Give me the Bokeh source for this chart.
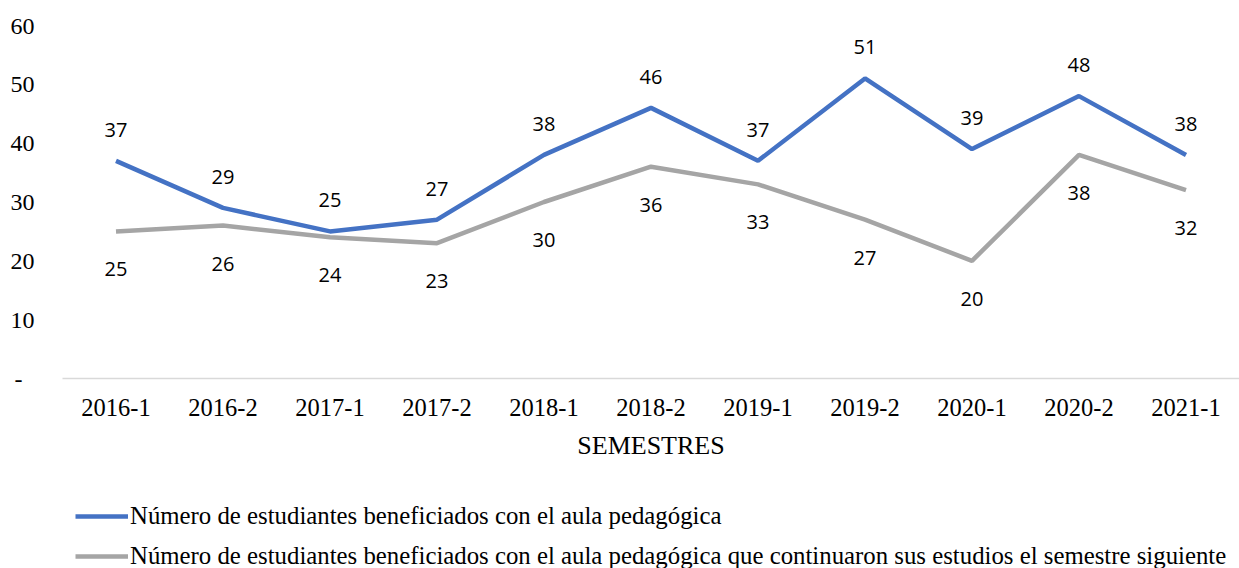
from bokeh.plotting import figure
from bokeh.models import FactorRange, Range1d, FixedTicker, Legend, LegendItem, ColumnDataSource
from bokeh.layouts import column
from bokeh.core.properties import value
from bokeh.embed import file_html
from bokeh.resources import INLINE

semestres = ["2016-1", "2016-2", "2017-1", "2017-2", "2018-1", "2018-2",
             "2019-1", "2019-2", "2020-1", "2020-2", "2021-1"]
beneficiados = [37, 29, 25, 27, 38, 46, 37, 51, 39, 48, 38]
continuaron = [25, 26, 24, 23, 30, 36, 33, 27, 20, 38, 32]
y_ticks = [0, 10, 20, 30, 40, 50, 60]
y_tick_labels = {0: "-\u00a0\u00a0", 10: "10", 20: "20", 30: "30", 40: "40", 50: "50", 60: "60"}
label_1 = "Número de estudiantes beneficiados con el aula pedagógica"
label_2 = ("Número de estudiantes beneficiados con el aula pedagógica que continuaron "
           "sus estudios el semestre siguiente")

BLUE = "#4472C4"
GRAY = "#A5A5A5"
SERIF = "Liberation Serif"
SANS = "Open Sans"

src = ColumnDataSource(dict(x=semestres, a=beneficiados, b=continuaron,
                            at=[str(v) for v in beneficiados],
                            bt=[str(v) for v in continuaron]))

p = figure(frame_width=1177, frame_height=353,
           x_range=FactorRange(*semestres, range_padding=0),
           y_range=Range1d(0, 60), output_backend="svg", toolbar_location=None)
p.min_border_left = 62
p.min_border_right = 0
p.min_border_top = 25
p.min_border_bottom = 92
p.outline_line_color = None
p.xgrid.grid_line_color = None
p.ygrid.grid_line_color = None

p.line("x", "a", source=src, line_color=BLUE, line_width=4.5)
p.line("x", "b", source=src, line_color=GRAY, line_width=4.5)

p.text("x", "a", text="at", source=src, y_offset=-31, text_align="center",
       text_baseline="middle", text_font=value(SANS), text_font_size="20px", text_color="#000000")
p.text("x", "b", text="bt", source=src, y_offset=38, text_align="center",
       text_baseline="middle", text_font=value(SANS), text_font_size="20px", text_color="#000000")

ya = p.yaxis[0]
ya.ticker = FixedTicker(ticks=y_ticks)
ya.major_label_overrides = y_tick_labels
ya.axis_line_color = None
ya.major_tick_line_color = None
ya.minor_tick_line_color = None
ya.major_tick_out = 0
ya.major_label_standoff = 28
ya.major_label_text_font = SERIF
ya.major_label_text_font_size = "24px"
ya.major_label_text_color = "#000000"

xa = p.xaxis[0]
xa.axis_line_color = "#D9D9D9"
xa.axis_line_width = 1.5
xa.major_tick_line_color = None
xa.minor_tick_line_color = None
xa.major_tick_out = 0
xa.major_label_standoff = 20
xa.major_label_text_font = SERIF
xa.major_label_text_font_size = "24.5px"
xa.major_label_text_color = "#000000"
xa.axis_label = "SEMESTRES"
xa.axis_label_text_font = SERIF
xa.axis_label_text_font_size = "26px"
xa.axis_label_text_font_style = "normal"
xa.axis_label_text_color = "#000000"
xa.axis_label_standoff = 12

# Legend panel below the chart (series drawn off-range, only the legend shows)
pl = figure(frame_width=1177, frame_height=79,
            x_range=FactorRange(*semestres, range_padding=0), y_range=Range1d(1000, 1001),
            x_axis_location=None, y_axis_location=None,
            output_backend="svg", toolbar_location=None)
pl.min_border_left = 62
pl.min_border_right = 0
pl.min_border_top = 19
pl.min_border_bottom = 0
pl.grid.visible = False
pl.outline_line_color = None
l1 = pl.line("x", "a", source=src, line_color=BLUE, line_width=4.5)
l2 = pl.line("x", "b", source=src, line_color=GRAY, line_width=4.5)

legend = Legend(items=[LegendItem(label=label_1, renderers=[l1]),
                       LegendItem(label=label_2, renderers=[l2])],
                location="top_left", orientation="vertical")
legend.border_line_color = None
legend.background_fill_alpha = 0
legend.label_text_font = SERIF
legend.label_text_font_size = "24.8px"
legend.label_text_color = "#000000"
legend.glyph_width = 53
legend.glyph_height = 26
legend.label_height = 26
legend.label_standoff = 2
legend.spacing = 12
legend.padding = 0
legend.margin = 13
pl.add_layout(legend, "center")

layout = column(p, pl, spacing=0)
open("out.html", "w").write(file_html(layout, INLINE))
